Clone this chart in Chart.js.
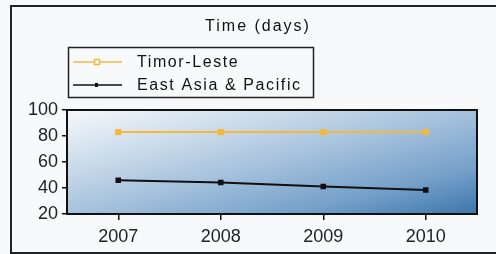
<!DOCTYPE html>
<html>
<head>
<meta charset="utf-8">
<script src="https://cdn.jsdelivr.net/npm/chart.js@4"></script>
<style>
  html, body { margin: 0; padding: 0; background: #f8f9fb; }
  #wrap { width: 496px; height: 254px; }
</style>
</head>
<body>
<div id="wrap"><canvas id="timeChart" width="496" height="254"></canvas></div>
<script>
const years = ['2007', '2008', '2009', '2010'];
const timorLeste = [83, 83, 83, 83];
const eastAsia = [46, 44.2, 41.2, 38.5];
const yTicks = [20, 40, 60, 80, 100];

const FONT = '"Liberation Sans", Arial, sans-serif';

// background, frame, gradient plot area, title and boxed legend
const decor = {
  id: 'decor',
  beforeDraw(chart) {
    const c = chart.ctx;
    c.save();
    c.fillStyle = '#f8f9fb';
    c.fillRect(0, 0, chart.width, chart.height);
    c.strokeStyle = '#222';
    c.lineWidth = 2;
    c.strokeRect(11, 6, 520, 247);
    c.restore();
  },
  beforeDatasetsDraw(chart) {
    const a = chart.chartArea, c = chart.ctx;
    const g = c.createLinearGradient(a.left, a.top, a.left + 50, a.top + 195);
    g.addColorStop(0, '#f6f8fb');
    g.addColorStop(0.25, '#cfdeec');
    g.addColorStop(0.5, '#a6c2dd');
    g.addColorStop(0.78, '#75a0c9');
    g.addColorStop(1, '#3f77ad');
    c.save();
    c.fillStyle = g;
    c.fillRect(a.left, a.top, a.right - a.left, a.bottom - a.top);
    c.restore();
  },
  afterDraw(chart) {
    const a = chart.chartArea, c = chart.ctx;
    c.save();
    c.strokeStyle = '#111';
    c.lineWidth = 2;
    c.strokeRect(a.left, a.top, a.right - a.left, a.bottom - a.top);

    // title
    c.fillStyle = '#111';
    c.font = '16px ' + FONT;
    c.letterSpacing = '2px';
    c.textAlign = 'center';
    c.textBaseline = 'middle';
    c.fillText('Time (days)', 258, 27);

    // legend box
    c.lineWidth = 1.5;
    c.strokeStyle = '#222';
    c.strokeRect(68.5, 47.5, 245, 50);
    c.textAlign = 'left';
    c.font = '16px ' + FONT;
    c.letterSpacing = '1.6px';
    chart.data.datasets.forEach((ds, i) => {
      const y = 62 + i * 23;
      c.strokeStyle = ds.borderColor;
      c.lineWidth = 1.5;
      c.beginPath();
      c.moveTo(73, y);
      c.lineTo(122, y);
      c.stroke();
      if (i === 0) {
        c.fillStyle = '#f8f9fb';
        c.fillRect(94.5, y - 2.5, 5, 5);
        c.strokeRect(94.5, y - 2.5, 5, 5);
      } else {
        c.fillStyle = ds.borderColor;
        c.fillRect(95, y - 2, 3, 4);
      }
      c.fillStyle = '#111';
      c.fillText(ds.label, 137, y + 1);
    });
    c.restore();
  }
};

new Chart(document.getElementById('timeChart'), {
  type: 'line',
  data: {
    labels: years,
    datasets: [
      {
        label: 'Timor-Leste',
        data: timorLeste,
        borderColor: '#f5b83f',
        backgroundColor: '#f5b83f',
        borderWidth: 2,
        pointStyle: 'rect',
        pointRadius: 3,
        pointBackgroundColor: '#f5b83f'
      },
      {
        label: 'East Asia & Pacific',
        data: eastAsia,
        borderColor: '#111111',
        backgroundColor: '#111111',
        borderWidth: 2,
        pointStyle: 'rect',
        pointRadius: 2.5,
        pointBackgroundColor: '#111111'
      }
    ]
  },
  options: {
    responsive: false,
    animation: false,
    layout: { padding: { left: 0, top: 110, right: 19, bottom: 0 } },
    plugins: {
      legend: { display: false },
      title: { display: false },
      tooltip: { enabled: false }
    },
    scales: {
      x: {
        offset: true,
        grid: { offset: false, drawOnChartArea: false, color: '#111', tickLength: 6, lineWidth: 1.5 },
        border: { display: false },
        ticks: { color: '#222', font: { family: FONT, size: 18 }, padding: 6 },
        afterFit(s) { s.height = 40; }
      },
      y: {
        min: 20,
        max: 100,
        afterBuildTicks(s) { s.ticks = yTicks.map(v => ({ value: v })); },
        grid: { drawOnChartArea: false, color: '#111', tickLength: 5, lineWidth: 1.5 },
        border: { display: false },
        ticks: { color: '#222', font: { family: FONT, size: 18 }, padding: 4 },
        afterFit(s) { s.width = 67; }
      }
    }
  },
  plugins: [decor]
});
</script>
</body>
</html>
